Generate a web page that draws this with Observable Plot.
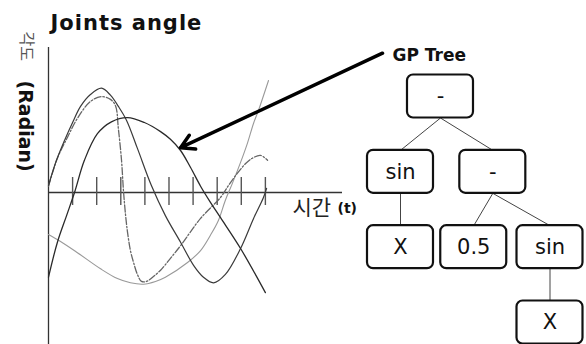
<!DOCTYPE html>
<html>
<head>
<meta charset="utf-8">
<script src="https://cdn.jsdelivr.net/npm/d3@7"></script>
<script src="https://cdn.jsdelivr.net/npm/@observablehq/plot@0.6"></script>
<style>
html, body { margin: 0; padding: 0; background: #fff; }
#chart { width: 586px; height: 344px; }
</style>
</head>
<body>
<div id="chart"></div>
<script>
// ---------------- data ----------------
const titleText = "Joints angle";
const yLabelKo = "각도";
const yLabelEn = "(Radian)";
const xLabelKo = "시간";
const xLabelEn = "(t)";
const treeTitle = "GP Tree";

const tickT = [1, 2, 3, 4, 5, 6, 7, 8, 9];
const timeAxisMax = 12.2;

// curve A: solid, tall early peak
const curveA_t = [0, 0.33, 0.66, 1.00, 1.33, 1.74, 2.20, 2.57, 2.90, 3.24, 3.69, 4.27, 4.85, 5.48, 6.02, 6.43, 6.85, 7.34, 7.97, 8.51, 8.92, 9.05];
const curveA_y = [0.10, 0.46, 0.74, 1.00, 1.23, 1.40, 1.49, 1.39, 1.23, 1.03, 0.63, 0.10, -0.33, -0.71, -1.04, -1.21, -1.29, -1.17, -0.80, -0.37, -0.07, 0.06];

// curve B: solid, broad peak
const curveB_t = [0, 0.37, 0.75, 1.08, 1.49, 2.03, 2.61, 3.28, 3.98, 4.65, 5.06, 5.48, 5.89, 6.31, 6.72, 7.14, 7.97, 9.00];
const curveB_y = [-1.21, -0.71, -0.33, 0, 0.46, 0.84, 1.01, 1.07, 1.00, 0.87, 0.76, 0.60, 0.36, 0.09, -0.14, -0.36, -0.80, -1.43];

// curve C: dash-dot
const curveC_t = [0, 0.37, 0.79, 1.20, 1.74, 2.20, 2.57, 2.78, 2.90, 3.03, 3.11, 3.20, 3.28, 3.40, 3.53, 3.69, 3.86, 4.07, 4.32, 4.65, 5.06, 5.48, 6.31, 7.14, 7.47, 7.76, 8.17, 8.46, 8.80, 9.09];
const curveC_y = [0.09, 0.49, 0.79, 1.06, 1.30, 1.37, 1.33, 1.24, 0.91, 0.46, 0.03, -0.33, -0.57, -0.83, -1.00, -1.17, -1.27, -1.27, -1.21, -1.11, -0.94, -0.76, -0.37, -0.07, 0.10, 0.24, 0.41, 0.49, 0.53, 0.46];

// curve D: thin light grey
const curveD_t = [0, 0.50, 1.20, 2.16, 2.86, 3.40, 3.94, 4.44, 4.85, 5.77, 6.31, 6.72, 7.05, 7.34, 7.63, 7.97, 8.26, 8.51, 8.71, 9.13];
const curveD_y = [-0.60, -0.70, -0.86, -1.09, -1.23, -1.29, -1.31, -1.27, -1.21, -1.00, -0.83, -0.61, -0.40, -0.11, 0.13, 0.43, 0.71, 0.99, 1.17, 1.60];

// arrow from the "GP Tree" label to curve B (chart units)
const arrowFrom = [13.86, 1.99];
const arrowTo = [5.48, 0.64];

// GP tree: labels, parent index, depth level, column
const treeLabels = ["-", "sin", "-", "X", "0.5", "sin", "X"];
const treeParent = [-1, 0, 0, 1, 2, 2, 5];
const treeLevel  = [0, 1, 1, 2, 2, 2, 3];
const treeCol    = [1.07, 0, 2.47, 0, 1.96, 4, 4];

// ---------------- build ----------------
const LATIN = '"DejaVu Sans", "Noto Sans CJK KR", sans-serif';
const KOREAN = '"Noto Sans CJK KR", "DejaVu Sans", sans-serif';
const BOX_W = 66, BOX_H = 43;

const toRows = (ts, ys) => ts.map((t, i) => ({t, y: ys[i]}));
const rowsA = toRows(curveA_t, curveA_y);
const rowsB = toRows(curveB_t, curveB_y);
const rowsC = toRows(curveC_t, curveC_y);
const rowsD = toRows(curveD_t, curveD_y);

const chart = Plot.plot({
  width: 586,
  height: 344,
  margin: 0,
  style: {background: "transparent"},
  x: {domain: [0, timeAxisMax], range: [48, 342], axis: null},
  y: {domain: [0, 1], range: [192, 122], axis: null},
  marks: [
    // axes
    Plot.ruleX([0], {x: d => d, insetTop: 47, stroke: "#333", strokeWidth: 1.3}),
    Plot.ruleY([0], {y: d => d, x1: 0, x2: timeAxisMax, stroke: "#333", strokeWidth: 1.3}),
    Plot.ruleX(tickT, {x: d => d, y1: 0, y2: 0, insetTop: -15, insetBottom: -13, stroke: "#555", strokeWidth: 1.4}),
    // curves
    Plot.line(rowsD, {x: "t", y: "y", curve: "catmull-rom", stroke: "#999", strokeWidth: 1.1}),
    Plot.line(rowsC, {x: "t", y: "y", curve: "catmull-rom", stroke: "#666", strokeWidth: 1.3, strokeDasharray: "7,2,1.5,2"}),
    Plot.line(rowsA, {x: "t", y: "y", curve: "catmull-rom", stroke: "#3a3a3a", strokeWidth: 1.2}),
    Plot.line(rowsB, {x: "t", y: "y", curve: "catmull-rom", stroke: "#2a2a2a", strokeWidth: 1.3}),
    // arrow
    Plot.arrow([0], {x1: arrowFrom[0], y1: arrowFrom[1], x2: arrowTo[0], y2: arrowTo[1], stroke: "#000", strokeWidth: 3.5, headLength: 6.5, headAngle: 60}),
    // title
    Plot.text([titleText], {text: d => d, frameAnchor: "top-left", dx: 50, dy: 23, textAnchor: "start", lineAnchor: "middle", fontSize: 21, fontWeight: "bold", fontFamily: LATIN, fill: "#111"}),
    // y label (rotated)
    Plot.text([yLabelKo], {text: d => d, frameAnchor: "top-left", dx: 26, dy: 31, rotate: 90, textAnchor: "start", lineAnchor: "middle", fontSize: 16, fontFamily: KOREAN, fill: "#555"}),
    Plot.text([yLabelEn], {text: d => d, frameAnchor: "top-left", dx: 25, dy: 80, rotate: 90, textAnchor: "start", lineAnchor: "middle", fontSize: 19, fontWeight: "bold", fontFamily: LATIN, fill: "#111"}),
    // x label
    Plot.text([xLabelKo], {text: d => d, x: timeAxisMax, y: 0, dx: -50, dy: 16, textAnchor: "start", lineAnchor: "middle", fontSize: 21, fontFamily: KOREAN, fill: "#222"}),
    Plot.text([xLabelEn], {text: d => d, x: timeAxisMax, y: 0, dx: -5, dy: 16, textAnchor: "start", lineAnchor: "middle", fontSize: 14, fontWeight: "bold", fontFamily: LATIN, fill: "#111"})
  ]
});
// widen the title slightly like the reference's wide bold face
chart.querySelectorAll("text").forEach(t => {
  if (t.textContent === titleText) t.setAttribute("letter-spacing", "1");
});

// tree
const nodes = treeLabels.map((label, i) => ({label, col: treeCol[i], level: treeLevel[i], parent: treeParent[i]}));
const links = nodes.filter(d => d.parent >= 0).map(d => ({
  x1: nodes[d.parent].col, y1: nodes[d.parent].level, x2: d.col, y2: d.level
}));

// custom curve: from the bottom edge of the parent box to the top edge of the child box
function boxEdgeCurve(context) {
  let pts = [];
  return {
    areaStart() {}, areaEnd() {},
    lineStart() { pts = []; },
    point(x, y) { pts.push([x, y]); },
    lineEnd() {
      if (pts.length < 2) return;
      const [p, q] = [pts[0], pts[pts.length - 1]];
      context.moveTo(p[0], p[1] + BOX_H / 2);
      context.lineTo(q[0], q[1] - BOX_H / 2);
    }
  };
}

const tree = Plot.plot({
  width: 586,
  height: 344,
  margin: 0,
  style: {background: "transparent"},
  x: {domain: [0, 4], range: [400, 549.5], axis: null},
  y: {domain: [0, 3], range: [96, 322], axis: null},
  marks: [
    Plot.link(links, {x1: "x1", y1: "y1", x2: "x2", y2: "y2", curve: boxEdgeCurve, stroke: "#444", strokeWidth: 1}),
    Plot.rect(nodes, {x1: "col", x2: "col", y1: "level", y2: "level",
      insetLeft: -BOX_W / 2, insetRight: -BOX_W / 2, insetTop: -BOX_H / 2, insetBottom: -BOX_H / 2,
      rx: 6, fill: "white", stroke: "#111", strokeWidth: 2.2}),
    Plot.text(nodes, {x: "col", y: "level", text: "label", fontSize: 21, fontFamily: LATIN, fill: "#111", lineAnchor: "middle"}),
    Plot.text([treeTitle], {text: d => d, x: treeCol[0], y: treeLevel[0], dx: -48, dy: -41, textAnchor: "start", lineAnchor: "middle", fontSize: 17, fontWeight: "bold", fontFamily: LATIN, fill: "#111"})
  ]
});

chart.appendChild(tree);
document.getElementById("chart").appendChild(chart);
</script>
</body>
</html>
